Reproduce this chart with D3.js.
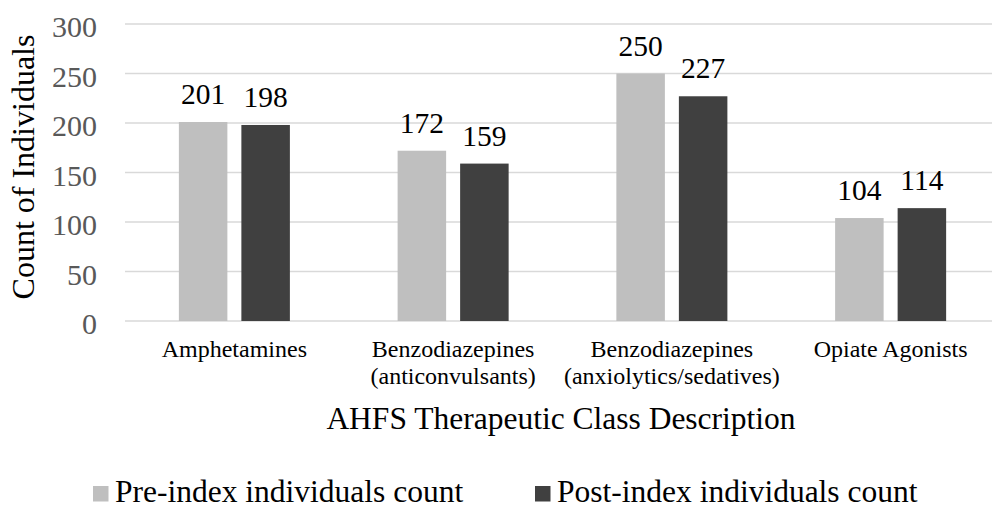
<!DOCTYPE html>
<html>
<head>
<meta charset="utf-8">
<script src="https://cdn.jsdelivr.net/npm/d3@7"></script>
<style>
  html, body { margin: 0; padding: 0; background: #fff; }
  svg { display: block; }
  svg text { font-family: "Liberation Serif", "Times New Roman", Times, "DejaVu Serif", serif; }
</style>
</head>
<body>
<svg id="chart"></svg>
<script>
// data
const categories = [
    ["Amphetamines"],
    ["Benzodiazepines", "(anticonvulsants)"],
    ["Benzodiazepines", "(anxiolytics/sedatives)"],
    ["Opiate Agonists"]
];
const seriesNames = ["Pre-index individuals count", "Post-index individuals count"];
const preCounts = [201, 172, 250, 104];
const postCounts = [198, 159, 227, 114];
const yTicks = [0, 50, 100, 150, 200, 250, 300];

const colors = ["#bfbfbf", "#404040"];

const width = 992;
const height = 508;
const margin = { top: 24, right: -8, bottom: 187, left: 125 };

const svg = d3.select("#chart").attr("width", width).attr("height", height);

const rows = categories.map((c, i) => ({
    key: i,
    lines: c,
    values: [preCounts[i], postCounts[i]]
}));

// scales
const x0 = d3.scaleBand()
    .domain(rows.map(d => d.key))
    .range([margin.left, width - margin.right])
    .paddingInner(0.4925)
    .paddingOuter(0.24625);

const x1 = d3.scaleBand()
    .domain([0, 1])
    .range([0, x0.bandwidth()])
    .paddingInner(0.224);

const y = d3.scaleLinear()
    .domain([0, 300])
    .range([height - margin.bottom, margin.top]);

// gridlines
svg.append("g")
    .selectAll("line")
    .data(yTicks)
    .join("line")
    .attr("x1", margin.left)
    .attr("x2", width - margin.right)
    .attr("y1", d => y(d))
    .attr("y2", d => y(d))
    .attr("stroke", "#d9d9d9")
    .attr("stroke-width", 1.5);

// y axis labels
const yAxis = svg.append("g")
    .attr("transform", `translate(${margin.left}, 0)`)
    .call(d3.axisLeft(y).tickValues(yTicks).tickSize(0).tickPadding(28).tickFormat(d3.format("d")));
yAxis.attr("font-family", null).attr("font-size", null);
yAxis.select(".domain").remove();
yAxis.selectAll("text")
    .attr("font-size", 30)
    .attr("fill", "#595959")
    .attr("dy", "0.42em");

// bars
const groups = svg.append("g")
    .selectAll("g")
    .data(rows)
    .join("g")
    .attr("transform", d => `translate(${x0(d.key)}, 0)`);

groups.selectAll("rect")
    .data(d => d.values.map((v, s) => ({ s, v })))
    .join("rect")
    .attr("x", d => x1(d.s))
    .attr("y", d => y(d.v))
    .attr("width", x1.bandwidth())
    .attr("height", d => y(0) - y(d.v))
    .attr("fill", d => colors[d.s]);

// value labels
groups.selectAll("text")
    .data(d => d.values.map((v, s) => ({ s, v })))
    .join("text")
    .attr("x", d => x1(d.s) + x1.bandwidth() / 2)
    .attr("y", d => y(d.v) - 18)
    .attr("text-anchor", "middle")
    .attr("font-size", 29.5)
    .attr("fill", "#000")
    .text(d => d.v);

// x axis (category labels)
const xAxis = svg.append("g")
    .attr("transform", `translate(0, ${y(0)})`)
    .call(d3.axisBottom(x0).tickSize(0).tickFormat(""));
xAxis.attr("font-family", null).attr("font-size", null);
xAxis.select(".domain").remove();
xAxis.selectAll(".tick text").remove();
xAxis.selectAll(".tick")
    .append("text")
    .attr("text-anchor", "middle")
    .attr("font-size", 24)
    .attr("fill", "#000")
    .each(function (k) {
        const t = d3.select(this);
        rows[k].lines.forEach((line, i) => {
            t.append("tspan")
                .attr("x", 0)
                .attr("y", 35.5 + i * 27)
                .text(line);
        });
    });

// x title
svg.append("text")
    .attr("x", 561)
    .attr("y", 429)
    .attr("text-anchor", "middle")
    .attr("font-size", 31.5)
    .attr("fill", "#000")
    .text("AHFS Therapeutic Class Description");

// y title
svg.append("text")
    .attr("transform", `translate(33.5, 167) rotate(-90)`)
    .attr("text-anchor", "middle")
    .attr("font-size", 32)
    .attr("fill", "#000")
    .text("Count of Individuals");

// legend
const legendX = [93, 535];
const legend = svg.append("g")
    .selectAll("g")
    .data(seriesNames)
    .join("g")
    .attr("transform", (d, i) => `translate(${legendX[i]}, 486)`);

legend.append("rect")
    .attr("width", 15.5)
    .attr("height", 15.5)
    .attr("fill", (d, i) => colors[i]);

legend.append("text")
    .attr("x", 22)
    .attr("y", 16)
    .attr("font-size", 31.5)
    .attr("fill", "#000")
    .text(d => d);
</script>
</body>
</html>
